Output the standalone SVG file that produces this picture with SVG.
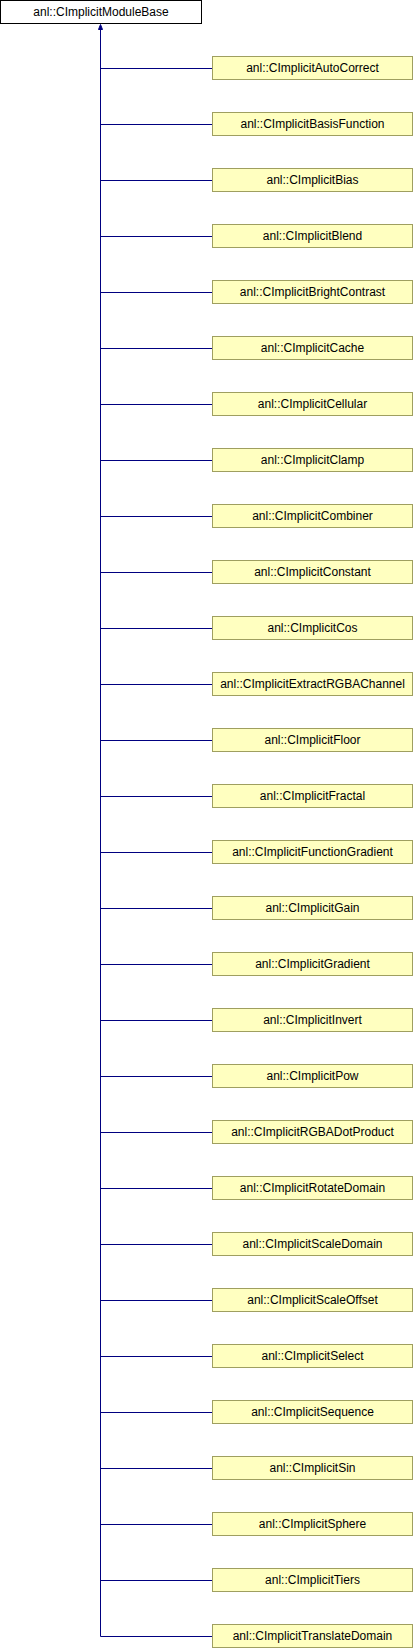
<svg xmlns="http://www.w3.org/2000/svg" width="414" height="1648" viewBox="0 0 414 1648">
<style>
.base rect{fill:#ffffff;stroke:#000000;stroke-width:1}
.child rect{fill:#ffffc0;stroke:#9f9f60;stroke-width:1}
text{font-family:"Liberation Sans",Arial,sans-serif;font-size:12px;fill:#000000;text-anchor:middle}
#connectors line{stroke:#000080;stroke-width:1}
#connectors polygon{fill:#000080;stroke:#000080;stroke-width:1}
</style>
<g id="connectors">
<line x1="100.5" y1="26" x2="100.5" y2="1636.5"/>
<polygon points="100.5,24.5 98.5,29.5 102.5,29.5"/>
<line x1="100.5" y1="68.5" x2="212" y2="68.5"/>
<line x1="100.5" y1="124.5" x2="212" y2="124.5"/>
<line x1="100.5" y1="180.5" x2="212" y2="180.5"/>
<line x1="100.5" y1="236.5" x2="212" y2="236.5"/>
<line x1="100.5" y1="292.5" x2="212" y2="292.5"/>
<line x1="100.5" y1="348.5" x2="212" y2="348.5"/>
<line x1="100.5" y1="404.5" x2="212" y2="404.5"/>
<line x1="100.5" y1="460.5" x2="212" y2="460.5"/>
<line x1="100.5" y1="516.5" x2="212" y2="516.5"/>
<line x1="100.5" y1="572.5" x2="212" y2="572.5"/>
<line x1="100.5" y1="628.5" x2="212" y2="628.5"/>
<line x1="100.5" y1="684.5" x2="212" y2="684.5"/>
<line x1="100.5" y1="740.5" x2="212" y2="740.5"/>
<line x1="100.5" y1="796.5" x2="212" y2="796.5"/>
<line x1="100.5" y1="852.5" x2="212" y2="852.5"/>
<line x1="100.5" y1="908.5" x2="212" y2="908.5"/>
<line x1="100.5" y1="964.5" x2="212" y2="964.5"/>
<line x1="100.5" y1="1020.5" x2="212" y2="1020.5"/>
<line x1="100.5" y1="1076.5" x2="212" y2="1076.5"/>
<line x1="100.5" y1="1132.5" x2="212" y2="1132.5"/>
<line x1="100.5" y1="1188.5" x2="212" y2="1188.5"/>
<line x1="100.5" y1="1244.5" x2="212" y2="1244.5"/>
<line x1="100.5" y1="1300.5" x2="212" y2="1300.5"/>
<line x1="100.5" y1="1356.5" x2="212" y2="1356.5"/>
<line x1="100.5" y1="1412.5" x2="212" y2="1412.5"/>
<line x1="100.5" y1="1468.5" x2="212" y2="1468.5"/>
<line x1="100.5" y1="1524.5" x2="212" y2="1524.5"/>
<line x1="100.5" y1="1580.5" x2="212" y2="1580.5"/>
<line x1="100.5" y1="1636.5" x2="212" y2="1636.5"/>
</g>
<g id="node-base" class="base"><rect x="0.5" y="0.5" width="201" height="23"/><text x="101" y="15.5">anl::CImplicitModuleBase</text></g>
<g id="node-0" class="child"><rect x="212.5" y="56.5" width="200" height="23"/><text x="312.5" y="71.5">anl::CImplicitAutoCorrect</text></g>
<g id="node-1" class="child"><rect x="212.5" y="112.5" width="200" height="23"/><text x="312.5" y="127.5">anl::CImplicitBasisFunction</text></g>
<g id="node-2" class="child"><rect x="212.5" y="168.5" width="200" height="23"/><text x="312.5" y="183.5">anl::CImplicitBias</text></g>
<g id="node-3" class="child"><rect x="212.5" y="224.5" width="200" height="23"/><text x="312.5" y="239.5">anl::CImplicitBlend</text></g>
<g id="node-4" class="child"><rect x="212.5" y="280.5" width="200" height="23"/><text x="312.5" y="295.5">anl::CImplicitBrightContrast</text></g>
<g id="node-5" class="child"><rect x="212.5" y="336.5" width="200" height="23"/><text x="312.5" y="351.5">anl::CImplicitCache</text></g>
<g id="node-6" class="child"><rect x="212.5" y="392.5" width="200" height="23"/><text x="312.5" y="407.5">anl::CImplicitCellular</text></g>
<g id="node-7" class="child"><rect x="212.5" y="448.5" width="200" height="23"/><text x="312.5" y="463.5">anl::CImplicitClamp</text></g>
<g id="node-8" class="child"><rect x="212.5" y="504.5" width="200" height="23"/><text x="312.5" y="519.5">anl::CImplicitCombiner</text></g>
<g id="node-9" class="child"><rect x="212.5" y="560.5" width="200" height="23"/><text x="312.5" y="575.5">anl::CImplicitConstant</text></g>
<g id="node-10" class="child"><rect x="212.5" y="616.5" width="200" height="23"/><text x="312.5" y="631.5">anl::CImplicitCos</text></g>
<g id="node-11" class="child"><rect x="212.5" y="672.5" width="200" height="23"/><text x="312.5" y="687.5">anl::CImplicitExtractRGBAChannel</text></g>
<g id="node-12" class="child"><rect x="212.5" y="728.5" width="200" height="23"/><text x="312.5" y="743.5">anl::CImplicitFloor</text></g>
<g id="node-13" class="child"><rect x="212.5" y="784.5" width="200" height="23"/><text x="312.5" y="799.5">anl::CImplicitFractal</text></g>
<g id="node-14" class="child"><rect x="212.5" y="840.5" width="200" height="23"/><text x="312.5" y="855.5">anl::CImplicitFunctionGradient</text></g>
<g id="node-15" class="child"><rect x="212.5" y="896.5" width="200" height="23"/><text x="312.5" y="911.5">anl::CImplicitGain</text></g>
<g id="node-16" class="child"><rect x="212.5" y="952.5" width="200" height="23"/><text x="312.5" y="967.5">anl::CImplicitGradient</text></g>
<g id="node-17" class="child"><rect x="212.5" y="1008.5" width="200" height="23"/><text x="312.5" y="1023.5">anl::CImplicitInvert</text></g>
<g id="node-18" class="child"><rect x="212.5" y="1064.5" width="200" height="23"/><text x="312.5" y="1079.5">anl::CImplicitPow</text></g>
<g id="node-19" class="child"><rect x="212.5" y="1120.5" width="200" height="23"/><text x="312.5" y="1135.5">anl::CImplicitRGBADotProduct</text></g>
<g id="node-20" class="child"><rect x="212.5" y="1176.5" width="200" height="23"/><text x="312.5" y="1191.5">anl::CImplicitRotateDomain</text></g>
<g id="node-21" class="child"><rect x="212.5" y="1232.5" width="200" height="23"/><text x="312.5" y="1247.5">anl::CImplicitScaleDomain</text></g>
<g id="node-22" class="child"><rect x="212.5" y="1288.5" width="200" height="23"/><text x="312.5" y="1303.5">anl::CImplicitScaleOffset</text></g>
<g id="node-23" class="child"><rect x="212.5" y="1344.5" width="200" height="23"/><text x="312.5" y="1359.5">anl::CImplicitSelect</text></g>
<g id="node-24" class="child"><rect x="212.5" y="1400.5" width="200" height="23"/><text x="312.5" y="1415.5">anl::CImplicitSequence</text></g>
<g id="node-25" class="child"><rect x="212.5" y="1456.5" width="200" height="23"/><text x="312.5" y="1471.5">anl::CImplicitSin</text></g>
<g id="node-26" class="child"><rect x="212.5" y="1512.5" width="200" height="23"/><text x="312.5" y="1527.5">anl::CImplicitSphere</text></g>
<g id="node-27" class="child"><rect x="212.5" y="1568.5" width="200" height="23"/><text x="312.5" y="1583.5">anl::CImplicitTiers</text></g>
<g id="node-28" class="child"><rect x="212.5" y="1624.5" width="200" height="23"/><text x="312.5" y="1639.5">anl::CImplicitTranslateDomain</text></g>
</svg>
